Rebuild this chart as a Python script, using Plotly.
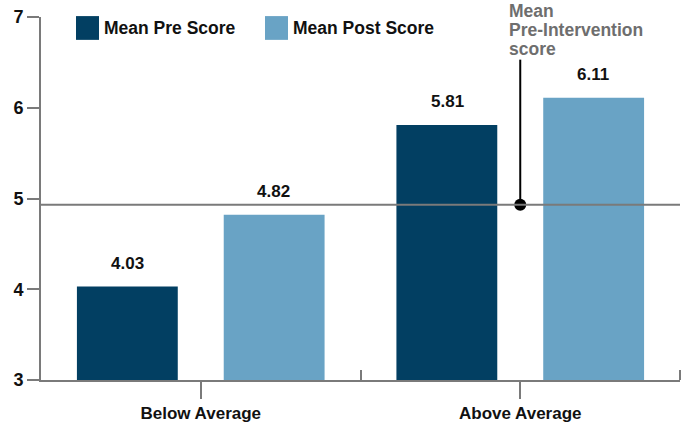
import plotly.graph_objects as go

# data
groups = ["Below Average", "Above Average"]
pre_scores = [4.03, 5.81]
post_scores = [4.82, 6.11]
mean_pre = 4.93
callout_top = 6.53
callout_lines = ["Mean", "Pre-Intervention", "score"]
y_ticks = [3, 4, 5, 6, 7]

dark = "#023f62"
light = "#69a3c5"
axis_grey = "#7a7a7a"
note_grey = "#6e6e6e"
font_family = "Liberation Sans, Arial, sans-serif"
bold = dict(family=font_family, color="#111111", weight="bold")

fig = go.Figure()

fig.add_trace(go.Bar(
    x=groups, y=pre_scores, name="Mean Pre Score",
    marker=dict(color=dark, line=dict(width=0)),
))
fig.add_trace(go.Bar(
    x=groups, y=post_scores, name="Mean Post Score",
    marker=dict(color=light, line=dict(width=0)),
))

# callout line + dot for the mean pre-intervention score
fig.add_trace(go.Scatter(
    x=[groups[1], groups[1]], y=[mean_pre, callout_top],
    mode="lines", line=dict(color="#000000", width=2),
    showlegend=False, hoverinfo="skip", cliponaxis=False,
))
fig.add_trace(go.Scatter(
    x=[groups[1]], y=[mean_pre],
    mode="markers", marker=dict(color="#000000", size=12),
    showlegend=False, hoverinfo="skip",
))

# invisible trace so the overlay axis draws boundary ticks
fig.add_trace(go.Scatter(
    x=groups, y=[None, None], xaxis="x2", mode="markers",
    showlegend=False, hoverinfo="skip",
))

# value labels above bars
for vals, shift in [(pre_scores, -73), (post_scores, 73)]:
    for g, v in zip(groups, vals):
        fig.add_annotation(x=g, y=v, text=f"{v:.2f}", showarrow=False,
                           xshift=shift, yshift=12, yanchor="bottom",
                           font=dict(size=17, **bold))

# horizontal mean line across the plot
fig.add_shape(type="line", xref="paper", x0=0, x1=1, yref="y",
              y0=mean_pre, y1=mean_pre, layer="above",
              line=dict(color=axis_grey, width=2))
# end tick at the right edge of the x axis
fig.add_shape(type="line", xref="paper", x0=1, x1=1, yref="y",
              ysizemode="pixel", yanchor=3, y0=0, y1=10,
              line=dict(color=axis_grey, width=2))

# hand-drawn legend with big square swatches
legend_items = [("Mean Pre Score", dark, 0.0548), ("Mean Post Score", light, 0.3505)]
for label, color, x0 in legend_items:
    fig.add_shape(type="rect", xref="paper", yref="paper",
                  x0=x0, x1=x0 + 0.036, y0=0.937, y1=1.0025,
                  fillcolor=color, line=dict(width=0))
    fig.add_annotation(xref="paper", yref="paper", x=x0 + 0.041, y=0.969,
                       text=label, showarrow=False, xanchor="left", yanchor="middle",
                       font=dict(size=17.5, **bold))

# callout text, one line at a time for tighter leading
for line, ypos in zip(callout_lines, [1.0179, 0.9642, 0.9132]):
    fig.add_annotation(
        x=groups[1], y=ypos, xref="x", yref="paper", xanchor="left", yanchor="middle",
        xshift=-12, showarrow=False, align="left", borderpad=0,
        text=line,
        font=dict(size=17.5, family=font_family, color=note_grey, weight="bold"),
    )

xr = [-0.5, 1.5]
fig.update_layout(
    width=685, height=425,
    margin=dict(l=41, r=5, t=17, b=45),
    plot_bgcolor="white", paper_bgcolor="white",
    barmode="group", bargap=0.081, bargroupgap=0.313,
    showlegend=False,
    font=dict(family=font_family, size=17, color="#111111"),
    xaxis=dict(
        type="category", categoryorder="array", categoryarray=groups,
        range=xr, automargin=False,
        showline=True, linecolor=axis_grey, linewidth=2,
        ticks="outside", ticklen=17, tickwidth=2, tickcolor=axis_grey,
        tickfont=dict(size=17, **bold),
        showgrid=False, zeroline=False,
    ),
    xaxis2=dict(
        type="category", categoryorder="array", categoryarray=groups,
        range=xr, overlaying="x", side="bottom", automargin=False,
        tickson="boundaries", ticks="inside", ticklen=10, tickwidth=2,
        tickcolor=axis_grey, showticklabels=False,
        showline=False, showgrid=False, zeroline=False,
    ),
    yaxis=dict(
        range=[3, 7], tickvals=y_ticks, automargin=False,
        ticklabeloverflow="allow",
        showline=True, linecolor=axis_grey, linewidth=2,
        ticks="outside", ticklen=12, tickwidth=2, tickcolor=axis_grey,
        tickfont=dict(size=18, **bold),
        showgrid=False, zeroline=False,
    ),
)

# drop the browser's default 8px body margin so the figure sits at the corner
fig.write_html("out.html", config={"displayModeBar": False},
               post_script="document.body.style.margin = '0';")
